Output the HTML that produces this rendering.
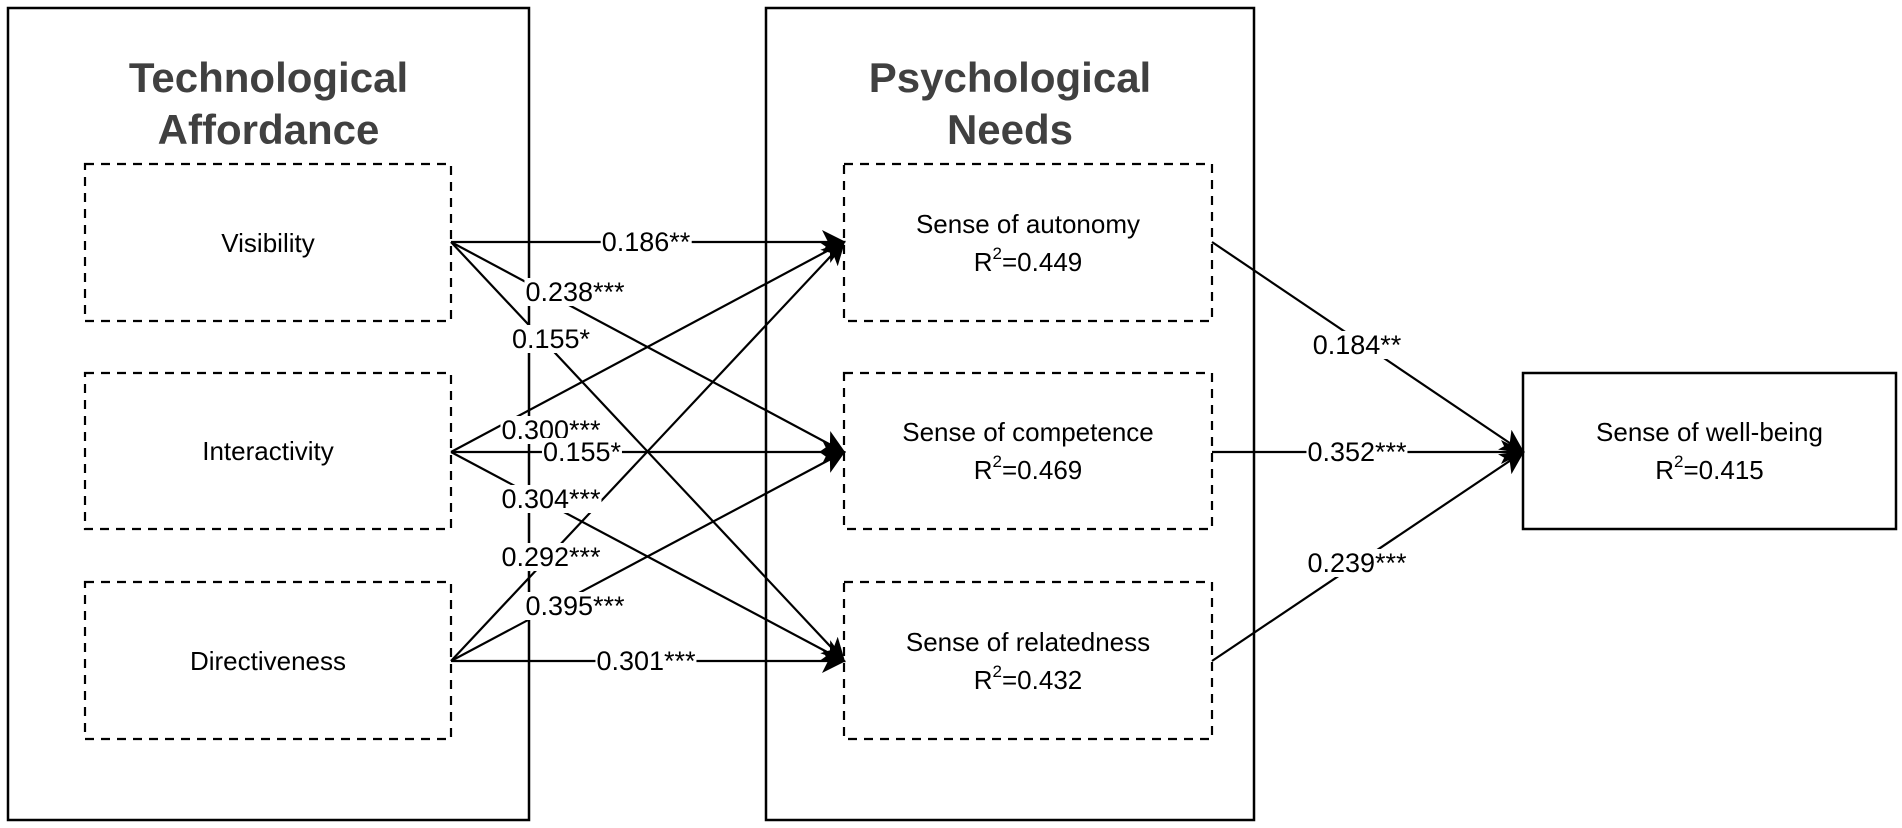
<!DOCTYPE html>
<html><head><meta charset="utf-8"><style>
html,body{margin:0;padding:0;background:#fff;}
#c{position:relative;width:1902px;height:828px;overflow:hidden;font-family:"Liberation Sans",Arial,sans-serif;}
svg{position:absolute;left:0;top:0;}
.l{position:absolute;background:#fff;font-size:27px;line-height:28px;padding:0 1px;transform:translate(-50%,-50%);white-space:nowrap;color:#000;}
.n{position:absolute;font-size:26px;line-height:38px;text-align:center;color:#000;display:flex;flex-direction:column;justify-content:center;align-items:center;}
.t{position:absolute;font-weight:bold;font-size:42px;line-height:52px;color:#404040;text-align:center;}
sup{font-size:17px;line-height:0;position:relative;top:-2px;}
</style></head><body><div id="c">
<svg width="1902" height="828" viewBox="0 0 1902 828">
<defs><marker id="a" markerWidth="24" markerHeight="24" refX="22" refY="12" orient="auto" markerUnits="userSpaceOnUse"><path d="M0,0 L24,12 L0,24 L6,12 Z" fill="#000"/></marker></defs>
<g fill="none" stroke="#000">
<rect x="8" y="8" width="521" height="812" stroke-width="2.5"/>
<rect x="766" y="8" width="488" height="812" stroke-width="2.5"/>
<rect x="1523" y="373" width="373" height="156" stroke-width="2.5"/>
<g stroke-dasharray="9,7" stroke-width="2.2">
<rect x="85" y="164" width="366" height="157"/>
<rect x="85" y="373" width="366" height="156"/>
<rect x="85" y="582" width="366" height="157"/>
<rect x="844" y="164" width="368" height="157"/>
<rect x="844" y="373" width="368" height="156"/>
<rect x="844" y="582" width="368" height="157"/>
</g>
<g stroke-width="2.2" marker-end="url(#a)">
<line x1="451" y1="242" x2="844" y2="242"/>
<line x1="451" y1="242" x2="844" y2="452"/>
<line x1="451" y1="242" x2="844" y2="661"/>
<line x1="451" y1="452" x2="844" y2="242"/>
<line x1="451" y1="452" x2="844" y2="452"/>
<line x1="451" y1="452" x2="844" y2="661"/>
<line x1="451" y1="661" x2="844" y2="242"/>
<line x1="451" y1="661" x2="844" y2="452"/>
<line x1="451" y1="661" x2="844" y2="661"/>
<line x1="1212" y1="242" x2="1523" y2="452"/>
<line x1="1212" y1="452" x2="1523" y2="452"/>
<line x1="1212" y1="661" x2="1523" y2="452"/>
</g>
</g>
</svg>
<div class="t" style="left:8px;width:521px;top:52px;">Technological<br>Affordance</div>
<div class="t" style="left:766px;width:488px;top:52px;">Psychological<br>Needs</div>
<div class="n" style="left:85px;top:164px;width:366px;height:157px;">Visibility</div>
<div class="n" style="left:85px;top:373px;width:366px;height:156px;">Interactivity</div>
<div class="n" style="left:85px;top:582px;width:366px;height:157px;">Directiveness</div>
<div class="n" style="left:844px;top:164px;width:368px;height:157px;"><div>Sense of autonomy</div><div>R<sup>2</sup>=0.449</div></div>
<div class="n" style="left:844px;top:373px;width:368px;height:156px;"><div>Sense of competence</div><div>R<sup>2</sup>=0.469</div></div>
<div class="n" style="left:844px;top:582px;width:368px;height:157px;"><div>Sense of relatedness</div><div>R<sup>2</sup>=0.432</div></div>
<div class="n" style="left:1523px;top:373px;width:373px;height:156px;"><div>Sense of well-being</div><div>R<sup>2</sup>=0.415</div></div>
<div class="l" style="left:646px;top:242px;">0.186**</div>
<div class="l" style="left:575px;top:292px;">0.238***</div>
<div class="l" style="left:551px;top:339px;">0.155*</div>
<div class="l" style="left:551px;top:430px;">0.300***</div>
<div class="l" style="left:582px;top:452px;">0.155*</div>
<div class="l" style="left:551px;top:499px;">0.304***</div>
<div class="l" style="left:551px;top:557px;">0.292***</div>
<div class="l" style="left:575px;top:606px;">0.395***</div>
<div class="l" style="left:646px;top:661px;">0.301***</div>
<div class="l" style="left:1357px;top:345px;">0.184**</div>
<div class="l" style="left:1357px;top:452px;">0.352***</div>
<div class="l" style="left:1357px;top:563px;">0.239***</div>
</div></body></html>
